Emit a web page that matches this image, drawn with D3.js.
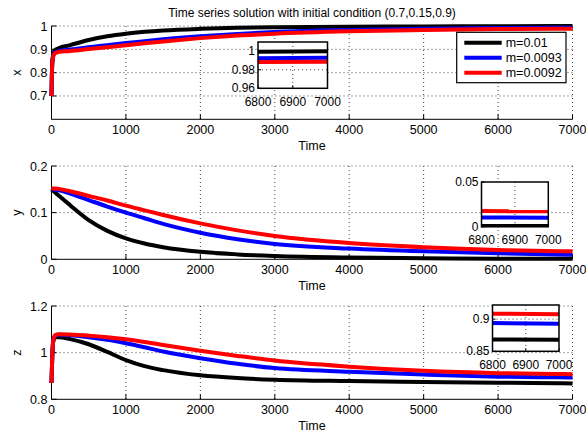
<!DOCTYPE html>
<html><head><meta charset="utf-8">
<script src="https://cdnjs.cloudflare.com/ajax/libs/d3/7.8.5/d3.min.js"></script>
<style>
html,body{margin:0;padding:0;background:#fff;}
svg{display:block;font-family:"Liberation Sans",Arial,Helvetica,sans-serif;}
</style></head>
<body><svg id="c" width="586" height="435"></svg>
<script>
// ---------- data ----------
const titleText = "Time series solution with initial condition (0.7,0.15,0.9)";
const seriesNames = ["m=0.01", "m=0.0093", "m=0.0092"];
const seriesColors = ["#000000", "#0000ff", "#ff0000"];
const time = [0, 10, 25, 50, 100, 250, 500, 750, 1000, 1250, 1500, 2000, 2500, 3000, 4000, 5000, 6000, 6800, 7000];

const xBlack = [0.7, 0.84, 0.88, 0.897, 0.905, 0.918, 0.94, 0.956, 0.967, 0.975, 0.981, 0.988, 0.992, 0.995, 0.997, 0.998, 0.999, 0.9995, 1.0];
const xBlue  = [0.7, 0.84, 0.875, 0.887, 0.893, 0.899, 0.909, 0.918, 0.927, 0.935, 0.943, 0.956, 0.966, 0.974, 0.983, 0.988, 0.991, 0.9925, 0.993];
const xRed   = [0.7, 0.84, 0.872, 0.884, 0.889, 0.893, 0.901, 0.909, 0.917, 0.926, 0.934, 0.948, 0.959, 0.967, 0.977, 0.983, 0.987, 0.9885, 0.9886];

const yBlack = [0.15, 0.1486, 0.1465, 0.143, 0.136, 0.116, 0.084, 0.061, 0.045, 0.034, 0.026, 0.016, 0.0105, 0.0072, 0.0038, 0.0022, 0.0014, 0.001, 0.001];
const yBlue  = [0.15, 0.15, 0.15, 0.149, 0.148, 0.141, 0.127, 0.113, 0.1, 0.088, 0.076, 0.057, 0.043, 0.033, 0.023, 0.017, 0.013, 0.0105, 0.01];
const yRed   = [0.152, 0.152, 0.152, 0.152, 0.151, 0.146, 0.136, 0.126, 0.115, 0.105, 0.095, 0.077, 0.062, 0.05, 0.035, 0.026, 0.02, 0.0175, 0.0173];

const zBlack = [0.87, 0.98, 1.05, 1.066, 1.066, 1.058, 1.036, 1.003, 0.968, 0.942, 0.925, 0.903, 0.891, 0.884, 0.878, 0.874, 0.871, 0.8685, 0.868];
const zBlue  = [0.87, 0.98, 1.055, 1.072, 1.077, 1.075, 1.066, 1.055, 1.04, 1.023, 1.005, 0.976, 0.952, 0.934, 0.918, 0.906, 0.897, 0.894, 0.893];
const zRed   = [0.87, 0.98, 1.055, 1.075, 1.079, 1.078, 1.073, 1.066, 1.057, 1.046, 1.033, 1.008, 0.986, 0.966, 0.94, 0.922, 0.912, 0.9085, 0.9077];

const xTicks = [0, 1000, 2000, 3000, 4000, 5000, 6000, 7000];
const p1Ticks = [0.7, 0.8, 0.9, 1];
const p2Ticks = [0, 0.1, 0.2];
const p3Ticks = [0.8, 1, 1.2];
const insetXTicks = [6800, 6900, 7000];
const inset1Ticks = [0.96, 0.98, 1];
const inset2Ticks = [0, 0.05];
const inset3Ticks = [0.85, 0.9];

// ---------- layout ----------
const svg = d3.select("#c");
const FONT = 12.5, IFONT = 12;
const L = 51.5, R = 572.5;
const panels = [
  {label:"x", top:26, bottom:119.3, domain:[0.6,1], ticks:p1Ticks, data:[xBlack,xBlue,xRed],
   inset:{x0:258, x1:327.5, y0:42, y1:88.3, domain:[0.96,1.01], ticks:inset1Ticks, grid:[0.98]}},
  {label:"y", top:166, bottom:259.3, domain:[0,0.2], ticks:p2Ticks, data:[yBlack,yBlue,yRed],
   inset:{x0:481.5, x1:548.3, y0:182, y1:226.8, domain:[0,0.05], ticks:inset2Ticks, grid:[]}},
  {label:"z", top:306, bottom:399.3, domain:[0.8,1.2], ticks:p3Ticks, data:[zBlack,zBlue,zRed],
   inset:{x0:492.5, x1:559, y0:305, y1:351.3, domain:[0.85,0.922], ticks:inset3Ticks, grid:[0.9]}}
];
const fmt = v => String(+v.toFixed(4));
const gridStyle = sel => sel.attr("stroke","#444").attr("stroke-width",1).attr("stroke-dasharray","1,3");

panels.forEach((p, pi) => {
  const xs = d3.scaleLinear().domain([0,7000]).range([L,R]);
  const ys = d3.scaleLinear().domain(p.domain).range([p.bottom,p.top]);
  const g = svg.append("g");
  // grid
  xTicks.forEach(t => { if (t>0) g.append("line").attr("x1",xs(t)).attr("x2",xs(t)).attr("y1",p.top).attr("y2",p.bottom).call(gridStyle); });
  p.ticks.forEach(t => { if (ys(t) < p.bottom-0.5) g.append("line").attr("x1",L).attr("x2",R).attr("y1",ys(t)).attr("y2",ys(t)).call(gridStyle); });
  // axes lines
  g.append("line").attr("x1",L).attr("x2",L).attr("y1",p.top).attr("y2",p.bottom).attr("stroke","#000").attr("stroke-width",1);
  g.append("line").attr("x1",L).attr("x2",R).attr("y1",p.bottom).attr("y2",p.bottom).attr("stroke","#000").attr("stroke-width",1);
  // ticks inward
  xTicks.forEach(t => g.append("line").attr("x1",xs(t)).attr("x2",xs(t)).attr("y1",p.bottom).attr("y2",p.bottom-5).attr("stroke","#000"));
  p.ticks.forEach(t => g.append("line").attr("x1",L).attr("x2",L+5).attr("y1",ys(t)).attr("y2",ys(t)).attr("stroke","#000"));
  // tick labels
  xTicks.forEach(t => g.append("text").attr("x",xs(t)).attr("y",p.bottom+15).attr("text-anchor","middle").attr("font-size",FONT).text(t));
  p.ticks.forEach(t => g.append("text").attr("x",L-4).attr("y",ys(t)+4.5).attr("text-anchor","end").attr("font-size",FONT).text(fmt(t)));
  // axis labels
  g.append("text").attr("x",(L+R)/2).attr("y",p.bottom+31).attr("text-anchor","middle").attr("font-size",FONT).text("Time");
  g.append("text").attr("transform",`translate(21,${(p.top+p.bottom)/2}) rotate(-90)`).attr("text-anchor","middle").attr("font-size",FONT).text(p.label);
  // lines
  const line = d3.line().x((d,i)=>xs(time[i])).y(d=>ys(d)).curve(d3.curveMonotoneX);
  p.data.forEach((arr, si) => {
    g.append("path").attr("d", line(arr)).attr("fill","none").attr("stroke",seriesColors[si]).attr("stroke-width",4).attr("stroke-linejoin","round");
  });
  // inset
  const ins = p.inset;
  const ix = d3.scaleLinear().domain([6800,7000]).range([ins.x0,ins.x1]);
  const iy = d3.scaleLinear().domain(ins.domain).range([ins.y1,ins.y0]);
  const ig = svg.append("g");
  ig.append("rect").attr("x",ins.x0).attr("y",ins.y0).attr("width",ins.x1-ins.x0).attr("height",ins.y1-ins.y0).attr("fill","#fff");
  const clipId = "clip"+pi;
  ig.append("clipPath").attr("id",clipId).append("rect").attr("x",ins.x0).attr("y",ins.y0).attr("width",ins.x1-ins.x0).attr("height",ins.y1-ins.y0);
  ig.append("line").attr("x1",ix(6900)).attr("x2",ix(6900)).attr("y1",ins.y0).attr("y2",ins.y1).call(gridStyle);
  ins.grid.forEach(v => ig.append("line").attr("x1",ins.x0).attr("x2",ins.x1).attr("y1",iy(v)).attr("y2",iy(v)).call(gridStyle));
  const iline = d3.line().x(d=>ix(d[0])).y(d=>iy(d[1]));
  p.data.forEach((arr, si) => {
    const pts = time.map((t,i)=>[t,arr[i]]).filter(d=>d[0]>=6800);
    ig.append("path").attr("d", iline(pts)).attr("fill","none").attr("stroke",seriesColors[si]).attr("stroke-width",4).attr("clip-path",`url(#${clipId})`);
  });
  insetXTicks.forEach(t => {
    ig.append("line").attr("x1",ix(t)).attr("x2",ix(t)).attr("y1",ins.y1).attr("y2",ins.y1-3).attr("stroke","#000");
    ig.append("text").attr("x",ix(t)).attr("y",ins.y1+17.5).attr("text-anchor","middle").attr("font-size",IFONT).text(t);
  });
  ins.ticks.forEach(v => {
    ig.append("line").attr("x1",ins.x0).attr("x2",ins.x0+3).attr("y1",iy(v)).attr("y2",iy(v)).attr("stroke","#000");
    ig.append("text").attr("x",ins.x0-3).attr("y",iy(v)+3.8).attr("text-anchor","end").attr("font-size",IFONT).text(fmt(v));
  });
  ig.append("rect").attr("x",ins.x0).attr("y",ins.y0).attr("width",ins.x1-ins.x0).attr("height",ins.y1-ins.y0).attr("fill","none").attr("stroke","#000").attr("stroke-width",1.5);
});

// title
svg.append("text").attr("x",(L+R)/2).attr("y",17).attr("text-anchor","middle").attr("font-size",12).text(titleText);

// legend
const lg = svg.append("g");
lg.append("rect").attr("x",456.7).attr("y",32.3).attr("width",109.3).attr("height",50.4).attr("fill","#fff").attr("stroke","#000").attr("stroke-width",1.2);
seriesNames.forEach((n,i) => {
  const cy = 42.7 + i*15;
  lg.append("line").attr("x1",464.3).attr("x2",501.7).attr("y1",cy).attr("y2",cy).attr("stroke",seriesColors[i]).attr("stroke-width",4);
  lg.append("text").attr("x",505.7).attr("y",cy+4.5).attr("font-size",FONT).text(n);
});
</script></body></html>
